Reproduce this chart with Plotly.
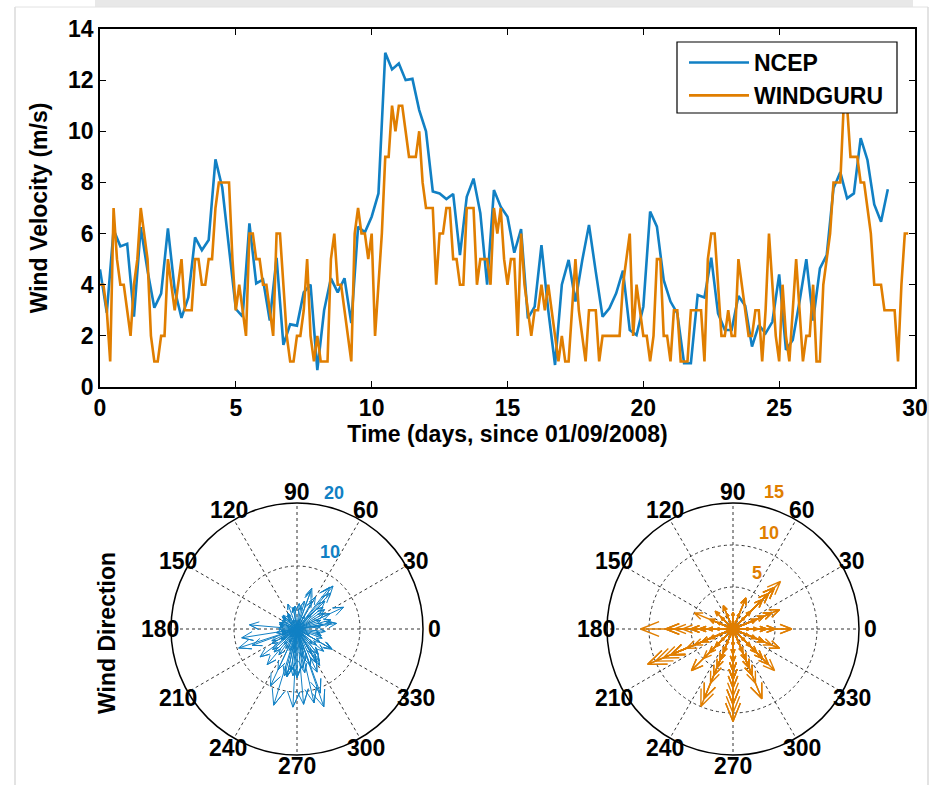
import numpy as np
import plotly.graph_objects as go

# ---------------- data ----------------
# NCEP wind speed (m/s), 6-hourly from day 0
ncep_speed = [
    4.6, 2.9, 6.15, 5.5, 5.6, 2.75, 6.25, 4.55, 3.1, 3.65,
    6.2, 3.8, 2.7, 3.5, 5.85, 5.35, 5.75, 8.9, 7.8, 5.4,
    3.05, 2.75, 6.4, 4.05, 4.2, 2.6, 5.05, 1.65, 2.45, 2.4,
    3.7, 4.0, 0.66, 3.0, 4.25, 3.7, 4.25, 2.5, 6.27, 6.05,
    6.66, 7.57, 13.07, 12.42, 12.65, 12.0, 12.05, 10.83, 10.0, 7.65,
    7.57, 7.35, 7.55, 5.16, 7.44, 8.15, 6.8, 4.0, 7.7, 7.05,
    6.66, 5.25, 6.17, 2.68, 3.14, 5.55, 3.0, 0.86, 4.0, 4.97,
    3.34, 4.95, 6.34, 4.5, 2.75, 3.08, 3.66, 4.55, 2.23, 2.03,
    3.14, 6.86, 6.27, 4.18, 3.34, 2.88, 0.93, 0.93, 3.6, 3.5,
    5.06, 2.88, 2.23, 2.23, 3.56, 3.18, 1.58, 2.42, 2.1, 2.55,
    4.4, 1.45, 1.84, 3.34, 5.0, 2.6, 4.64, 5.16, 7.77, 8.4,
    7.38, 7.57, 9.73, 8.88, 7.14, 6.46, 7.73,
]
# NCEP wind direction (deg, counter-clockwise from east)
ncep_dir = [
    75, 120, 300, 320, 10, 150, 290, 280, 135, 95,
    305, 265, 160, 100, 60, 35, 25, 50, 47, 40,
    140, 170, 70, 85, 110, 200, 310, 230, 185, 240,
    350, 20, 90, 215, 330, 5, 340, 195, 278, 300,
    262, 270, 289, 267, 253, 275, 283, 290, 245, 258,
    175, 217, 295, 285, 265, 25, 302, 320, 255, 280,
    262, 310, 330, 120, 45, 15, 160, 200, 345, 30,
    100, 62, 8, 355, 140, 210, 80, 300, 190, 130,
    230, 70, 45, 10, 315, 165, 90, 270, 250, 285,
    220, 180, 200, 150, 240, 260, 110, 60, 335, 215,
    205, 75, 160, 190, 235, 125, 210, 225, 258, 52,
    230, 200, 198, 189, 245, 330, 270,
]
# WINDGURU wind speed (m/s), 3-hourly from day 0
windguru_speed = [
    4, 4, 3, 1, 7, 5, 4, 4, 3, 2,
    4, 5, 7, 6, 5, 2, 1, 1, 2, 2,
    5, 4, 3, 4, 5, 3, 3, 3, 5, 5,
    4, 4, 5, 5, 7, 8, 8, 8, 8, 5,
    3, 4, 3, 2, 6, 6, 5, 5, 4, 4,
    3, 2, 6, 6, 4, 2, 1, 1, 2, 2,
    3, 5, 2, 1, 2, 1, 1, 1, 5, 6,
    4, 4, 3, 2, 1, 6, 7, 6, 6, 5,
    6, 2, 4, 6, 9, 9, 11, 10, 11, 11,
    10, 9, 9, 9, 10, 8, 7, 7, 7, 4,
    6, 6, 7, 7, 5, 5, 4, 4, 7, 7,
    7, 4, 5, 5, 5, 4, 7, 6, 7, 5,
    4, 5, 5, 2, 6, 4, 3, 2, 3, 3,
    4, 3, 4, 3, 2, 1, 2, 1, 1, 3,
    5, 3, 2, 1, 3, 3, 3, 1, 2, 2,
    2, 2, 2, 2, 4, 5, 6, 2, 4, 3,
    2, 2, 1, 2, 5, 5, 2, 2, 1, 3,
    3, 1, 1, 1, 3, 3, 3, 3, 1, 5,
    6, 6, 4, 2, 2, 3, 2, 2, 5, 4,
    3, 2, 2, 3, 3, 1, 3, 6, 4, 2,
    1, 4, 2, 1, 3, 5, 3, 1, 2, 2,
    4, 1, 1, 4, 5, 6, 8, 8, 8, 11,
    11, 9, 9, 9, 8, 8, 7, 6, 4, 4,
    4, 3, 3, 3, 3, 1, 4, 6, 6,
]
# WINDGURU wind direction (deg, 16-point compass, counter-clockwise from east)
windguru_dir = [
    0, 22.5, 45, 90, 45, 22.5, 337.5, 0, 22.5, 112.5,
    67.5, 45, 45, 22.5, 0, 135, 157.5, 180, 135, 112.5,
    157.5, 180, 202.5, 225, 180, 157.5, 135, 112.5, 202.5, 180,
    225, 247.5, 270, 292.5, 180, 202.5, 45, 180, 202.5, 225,
    247.5, 270, 247.5, 292.5, 270, 292.5, 315, 337.5, 315, 0,
    22.5, 67.5, 315, 337.5, 0, 45, 90, 135, 157.5, 180,
    225, 247.5, 270, 292.5, 270, 225, 180, 90, 270, 247.5,
    292.5, 315, 337.5, 0, 67.5, 270, 225, 247.5, 270, 292.5,
    270, 315, 292.5, 270, 292.5, 270, 270, 247.5, 270, 202.5,
    270, 270, 292.5, 247.5, 202.5, 270, 270, 292.5, 247.5, 270,
    315, 337.5, 315, 0, 22.5, 45, 67.5, 22.5, 45, 45,
    0, 337.5, 315, 292.5, 270, 247.5, 270, 292.5, 270, 315,
    337.5, 0, 22.5, 90, 45, 67.5, 112.5, 135, 157.5, 180,
    202.5, 225, 180, 157.5, 135, 112.5, 90, 67.5, 45, 22.5,
    0, 337.5, 315, 270, 292.5, 270, 247.5, 225, 202.5, 180,
    157.5, 135, 112.5, 90, 67.5, 45, 22.5, 0, 337.5, 315,
    292.5, 270, 247.5, 225, 270, 292.5, 315, 337.5, 0, 22.5,
    45, 67.5, 90, 112.5, 135, 157.5, 180, 202.5, 225, 247.5,
    270, 292.5, 315, 337.5, 0, 22.5, 45, 67.5, 180, 202.5,
    225, 247.5, 270, 292.5, 315, 337.5, 0, 270, 247.5, 225,
    202.5, 180, 157.5, 135, 112.5, 270, 292.5, 315, 337.5, 0,
    22.5, 45, 67.5, 202.5, 180, 202.5, 180, 202.5, 202.5, 180,
    202.5, 247.5, 202.5, 270, 180, 202.5, 225, 180, 247.5, 270,
    292.5, 270, 247.5, 225, 270, 270, 180, 45, 45,
]
ncep_step_days = 0.25      # 6-hourly
windguru_step_days = 0.125  # 3-hourly

x_ticks = [0, 5, 10, 15, 20, 25, 30]
y_ticks = [0, 2, 4, 6, 8, 10, 12, 14]
angle_ticks = [0, 30, 60, 90, 120, 150, 180, 210, 240, 270, 300, 330]

# ---------------- style / geometry ----------------
W, H = 938, 785
ML, MR, MT, MB = 100, 23, 29, 30          # plot area = x 100..915, y 29..755
PW, PH = W - ML - MR, H - MT - MB
BLUE = "#1180C4"
ORANGE = "#E07E00"
FONT = "Liberation Sans, Arial, Helvetica, sans-serif"
FS = 23

# compass discs (pixel geometry)
POLAR_R = 126
POLAR_CY = 629
POLAR_CX = {"polar": 297, "polar2": 733}
LABEL_DIST = 137                          # angle labels sit just outside the rim

ncep_time = [i * ncep_step_days for i in range(len(ncep_speed))]
windguru_time = [i * windguru_step_days for i in range(len(windguru_speed))]


def fx(x):
    """pixel x -> plot-area ('paper') fraction"""
    return (x - ML) / PW


def fy(y):
    """pixel y (from top) -> plot-area ('paper') fraction"""
    return (H - MB - y) / PH


def compass_path(speed, direction):
    """MATLAB compass-style arrows: shaft + two-sided head at 80% length."""
    head_r = float(np.hypot(0.8, 0.08))
    head_a = float(np.degrees(np.arctan2(0.08, 0.8)))
    r, th = [], []
    for s, d in zip(speed, direction):
        r += [0, s, s * head_r, s, s * head_r, None]
        th += [d, d, d + head_a, d, d - head_a, None]
    return r, th


fig = go.Figure()

fig.add_trace(go.Scatter(x=ncep_time, y=ncep_speed, mode="lines", name="NCEP",
                         line=dict(color=BLUE, width=2.6)))
fig.add_trace(go.Scatter(x=windguru_time, y=windguru_speed, mode="lines", name="WINDGURU",
                         line=dict(color=ORANGE, width=2.6)))

r1, t1 = compass_path(ncep_speed, ncep_dir)
fig.add_trace(go.Scatterpolar(r=r1, theta=t1, mode="lines", subplot="polar",
                              line=dict(color=BLUE, width=1), showlegend=False,
                              hoverinfo="skip"))
r2, t2 = compass_path(windguru_speed, windguru_dir)
fig.add_trace(go.Scatterpolar(r=r2, theta=t2, mode="lines", subplot="polar2",
                              line=dict(color=ORANGE, width=1.4), showlegend=False,
                              hoverinfo="skip"))

tickfont = dict(family=FONT, size=FS, color="black", weight="bold")


def polar_layout(name, rmax, rings):
    cx = POLAR_CX[name]
    return dict(
        domain=dict(x=[fx(cx - POLAR_R), fx(cx + POLAR_R)],
                    y=[fy(POLAR_CY + POLAR_R), fy(POLAR_CY - POLAR_R)]),
        bgcolor="white",
        angularaxis=dict(
            rotation=0, direction="counterclockwise",
            tickmode="array", tickvals=angle_ticks,
            showticklabels=False, ticks="",
            showline=True, linecolor="black", linewidth=1.5,
            showgrid=True, gridcolor="#333333", gridwidth=1, griddash="dot",
        ),
        radialaxis=dict(
            range=[0, rmax], tickmode="array", tickvals=rings,
            showticklabels=False, ticks="", showline=False,
            showgrid=True, gridcolor="#333333", gridwidth=1, griddash="dot",
        ),
    )


fig.update_layout(
    width=W, height=H,
    margin=dict(l=ML, r=MR, t=MT, b=MB, autoexpand=False),
    paper_bgcolor="white", plot_bgcolor="white",
    font=dict(family=FONT, color="black"),
    xaxis=dict(
        domain=[0, 1], range=[0, 30], tickmode="array", tickvals=x_ticks,
        anchor="y",
        ticks="inside", ticklen=6, tickwidth=1.2, tickcolor="black",
        showline=True, linecolor="black", linewidth=1.6, mirror="ticks",
        showgrid=False, zeroline=False, tickfont=tickfont,
        title=dict(text="Time (days, since 01/09/2008)", font=tickfont, standoff=4),
    ),
    yaxis=dict(
        domain=[fy(387), fy(29)], range=[0, 14], tickmode="array", tickvals=y_ticks,
        ticks="inside", ticklen=6, tickwidth=1.2, tickcolor="black",
        showline=True, linecolor="black", linewidth=1.6, mirror="ticks",
        showgrid=False, zeroline=False, tickfont=tickfont,
        title=dict(text="Wind Velocity (m/s)", font=tickfont, standoff=14),
    ),
    legend=dict(
        x=fx(684), y=fy(41), xanchor="left", yanchor="top",
        bgcolor="rgba(0,0,0,0)", borderwidth=0,
        font=dict(family=FONT, size=FS, color="black", weight="bold"),
        itemwidth=60, tracegroupgap=0,
    ),
    polar=polar_layout("polar", 20, [10]),
    polar2=polar_layout("polar2", 15, [5, 10]),
    showlegend=True,
)

# legend frame (white box that hides the lines beneath it)
fig.add_shape(type="rect", xref="paper", yref="paper", x0=fx(677), x1=fx(897),
              y0=fy(113), y1=fy(42), fillcolor="white",
              line=dict(color="black", width=1.2), layer="above")

# compass angle labels, placed just outside each rim
for name, cx in POLAR_CX.items():
    for a in angle_ticks:
        lx = cx + LABEL_DIST * np.cos(np.radians(a))
        ly = POLAR_CY - LABEL_DIST * np.sin(np.radians(a))
        fig.add_annotation(x=fx(lx), y=fy(ly), xref="paper", yref="paper",
                           text=str(a), showarrow=False, xanchor="center",
                           yanchor="middle", font=tickfont)

# radial ring labels (coloured like MATLAB compass)
ring_labels = [
    ("10", 330, 552, BLUE), ("20", 334, 493, BLUE),
    ("5", 757, 573, ORANGE), ("10", 769, 533, ORANGE), ("15", 774, 492, ORANGE),
]
for txt, x, y, c in ring_labels:
    fig.add_annotation(x=fx(x), y=fy(y), xref="paper", yref="paper", text=txt,
                       showarrow=False, xanchor="center", yanchor="middle",
                       font=dict(family=FONT, size=18, color=c, weight="bold"))

fig.add_annotation(x=fx(107), y=fy(633), xref="paper", yref="paper",
                   text="Wind Direction", textangle=-90, showarrow=False,
                   xanchor="center", yanchor="middle", font=tickfont)

# window frame remnants seen in the reference screenshot
fig.add_shape(type="rect", xref="paper", yref="paper", x0=fx(95), x1=fx(913),
              y0=fy(7), y1=fy(0), fillcolor="#E8E8E8", line=dict(width=0), layer="below")
fig.add_shape(type="line", xref="paper", yref="paper", x0=fx(15), x1=fx(15),
              y0=fy(785), y1=fy(7), line=dict(color="#DADADA", width=1.5))
fig.add_shape(type="line", xref="paper", yref="paper", x0=fx(15), x1=fx(928),
              y0=fy(7), y1=fy(7), line=dict(color="#E2E2E2", width=1))
fig.add_shape(type="line", xref="paper", yref="paper", x0=fx(928), x1=fx(928),
              y0=fy(785), y1=fy(7), line=dict(color="#DADADA", width=1.5))

fig.write_html("out.html")
